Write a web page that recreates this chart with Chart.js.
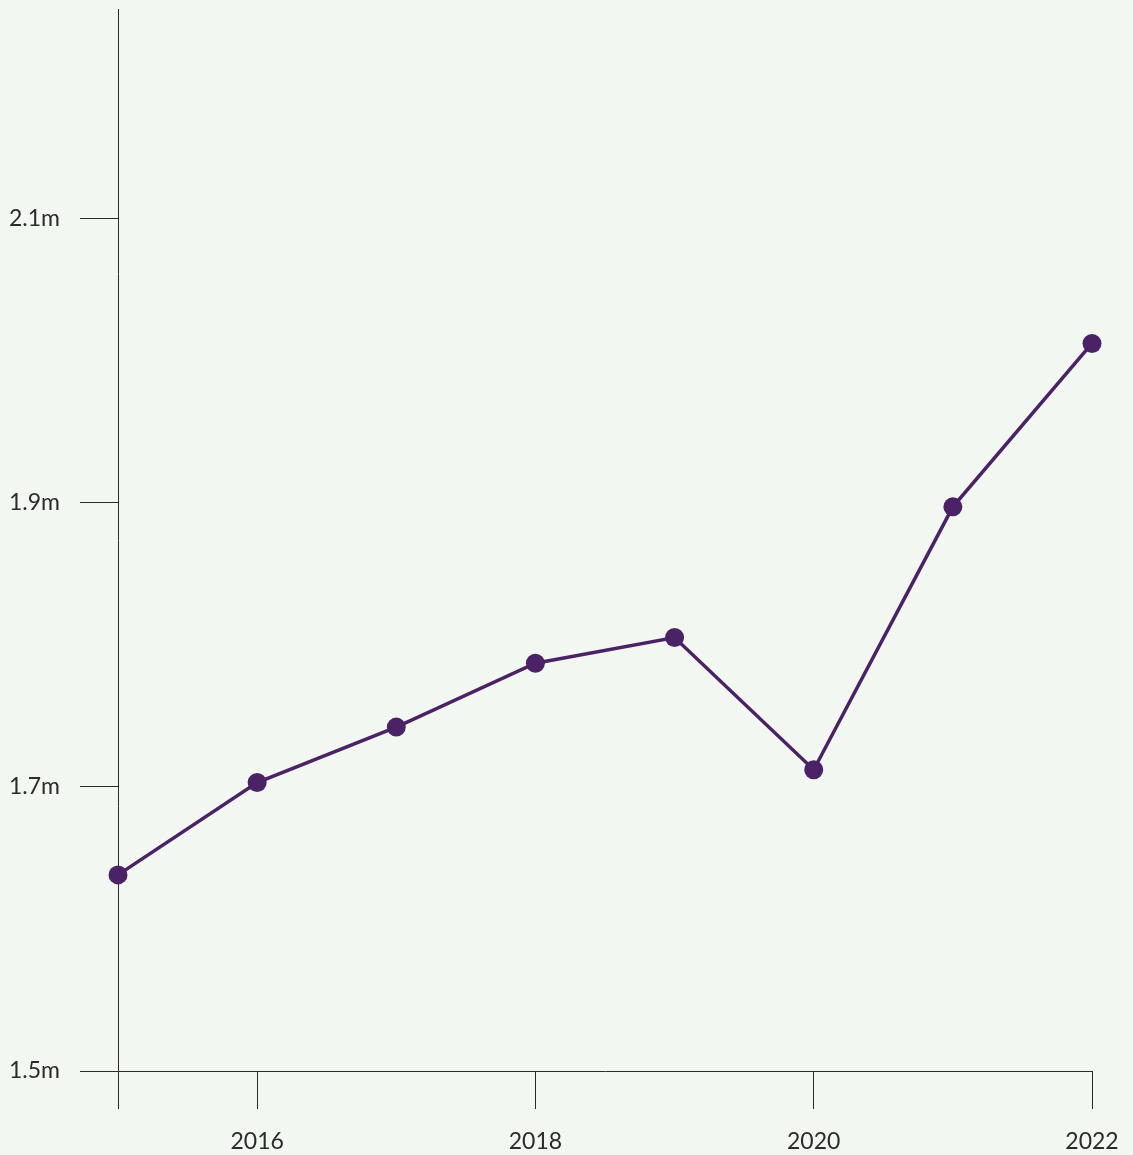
<!DOCTYPE html>
<html>
<head>
<meta charset="utf-8">
<script src="https://cdn.jsdelivr.net/npm/chart.js@4"></script>
<style>
  html, body { margin: 0; padding: 0; background: #f2f7f1; }
  #wrap { width: 1133px; height: 1155px; }
</style>
</head>
<body>
<div id="wrap"><canvas id="grafico"></canvas></div>
<script>
// datos
const years = [2015, 2016, 2017, 2018, 2019, 2020, 2021, 2022];
const values = [1.638, 1.703, 1.742, 1.787, 1.805, 1.712, 1.897, 2.012];
const xTicks = [2015, 2016, 2018, 2020, 2022];
const yTicks = [1.5, 1.7, 1.9, 2.1];

const ink = '#2b2b2b';
const purple = '#4b2266';

const ctx = document.getElementById('grafico').getContext('2d');
new Chart(ctx, {
  type: 'line',
  data: {
    datasets: [{
      data: years.map((y, i) => ({ x: y, y: values[i] })),
      borderColor: purple,
      backgroundColor: purple,
      borderWidth: 3.5,
      pointRadius: 9.5,
      pointHoverRadius: 9.5,
      pointBorderWidth: 0,
      tension: 0,
      fill: false,
      clip: false
    }]
  },
  options: {
    responsive: true,
    maintainAspectRatio: false,
    animation: false,
    layout: { padding: { top: 7, right: 41, left: 0, bottom: 0 } },
    plugins: {
      legend: { display: false },
      tooltip: { enabled: false }
    },
    scales: {
      x: {
        type: 'linear',
        min: 2015,
        max: 2022,
        afterBuildTicks: s => { s.ticks = xTicks.map(v => ({ value: v })); },
        afterFit: s => { s.height = 84; s.paddingLeft = 0; s.paddingRight = 0; },
        grid: { drawOnChartArea: false, drawTicks: true, tickLength: 38, color: ink, lineWidth: 1 },
        border: { display: true, color: ink, width: 1 },
        ticks: {
          padding: 19,
          color: ink,
          maxRotation: 0,
          autoSkip: false,
          font: { family: 'Lato', size: 23 },
          callback: v => (v === 2015 ? '' : String(v))
        }
      },
      y: {
        min: 1.5,
        max: 2.247,
        afterBuildTicks: s => { s.ticks = yTicks.map(v => ({ value: v })); },
        afterFit: s => { s.width = 118; s.paddingTop = 0; s.paddingBottom = 0; },
        grid: { drawOnChartArea: false, drawTicks: true, tickLength: 38, color: ink, lineWidth: 1 },
        border: { display: true, color: ink, width: 1 },
        ticks: {
          padding: 20,
          color: ink,
          autoSkip: false,
          font: { family: 'Lato', size: 23 },
          callback: v => v.toFixed(1) + 'm'
        }
      }
    }
  }
});
</script>
</body>
</html>
